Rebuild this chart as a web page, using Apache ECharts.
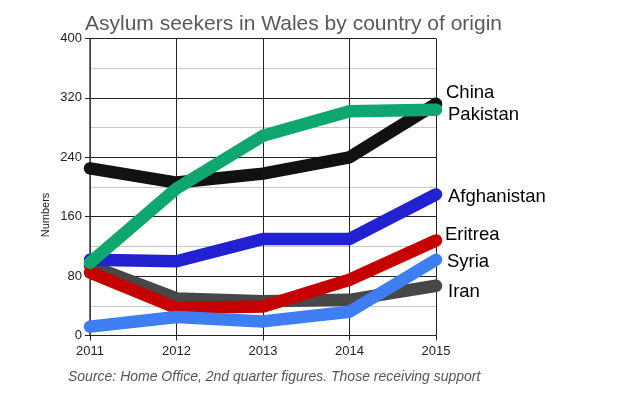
<!DOCTYPE html>
<html><head><meta charset="utf-8">
<script src="https://cdn.jsdelivr.net/npm/echarts@6/dist/echarts.min.js"></script>
<style>html,body{margin:0;padding:0;background:#fff}#c{width:624px;height:400px}</style>
</head><body><div id="c"></div>
<script>
const years = ['2011','2012','2013','2014','2015'];
const china = [225, 206, 218, 240, 312];
const iran = [94, 50, 46, 48, 67];
const eritrea = [85, 37, 39, 75, 128];
const afghanistan = [102, 100, 130, 130, 190];
const syria = [12, 25, 19, 32, 102];
const pakistan = [98, 198, 269, 302, 304];

const FONT = 'Liberation Sans, Arial, sans-serif';
const chart = echarts.init(document.getElementById('c'));
function s(name, data, color, off) {
  return {
    name, type: 'line', data, symbol: 'none', smooth: false,
    lineStyle: { width: 12.5, color, cap: 'round', join: 'round' },
    itemStyle: { color },
    endLabel: { show: true, formatter: name, color: '#000', fontSize: 18.5,
      fontFamily: FONT, offset: off, distance: 8 },
    z: 2
  };
}
chart.setOption({
  animation: false,
  title: { text: 'Asylum seekers in Wales by country of origin', left: 80, top: 9,
    textStyle: { color: '#595959', fontSize: 21, fontWeight: 'normal', fontFamily: FONT } },
  graphic: [
    { type: 'text', left: 68, top: 370,
      style: { text: 'Source: Home Office, 2nd quarter figures. Those receiving support', fill: '#555',
        font: 'italic 14px ' + FONT } },
    { type: 'text', x: 46, y: 215, rotation: Math.PI / 2,
      style: { text: 'Numbers', fill: '#222', font: '11px ' + FONT, align: 'center', verticalAlign: 'middle' } }
  ],
  grid: { left: 90, right: 188, top: 38.5, bottom: 64.5 },
  xAxis: { type: 'category', data: years, boundaryGap: false,
    axisLine: { lineStyle: { color: '#222', width: 1 } },
    axisTick: { show: true, length: 5, lineStyle: { color: '#222' } },
    axisLabel: { color: '#222', fontSize: 13, margin: 9, fontFamily: FONT },
    splitLine: { show: true, lineStyle: { color: '#222', width: 1 } } },
  yAxis: { type: 'value', min: 0, max: 400, interval: 80,
    axisLine: { show: true, lineStyle: { color: '#444', width: 1.5 } },
    axisTick: { show: true, length: 5, lineStyle: { color: '#222' } },
    axisLabel: { color: '#222', fontSize: 13, margin: 8, fontFamily: FONT },
    splitLine: { show: true, lineStyle: { color: '#222', width: 1 } },
    minorTick: { show: false, splitNumber: 2 },
    minorSplitLine: { show: true, lineStyle: { color: '#c8c8c8', width: 1 } } },
  series: [
    s('China', china, '#111111', [2, -11]),
    s('Iran', iran, '#474747', [4, 6]),
    s('Eritrea', eritrea, '#c40000', [1, -6]),
    s('Afghanistan', afghanistan, '#2121cf', [4, 2]),
    s('Syria', syria, '#3f7ef2', [3, 2]),
    s('Pakistan', pakistan, '#0fa670', [4, 5])
  ]
});
</script></body></html>
